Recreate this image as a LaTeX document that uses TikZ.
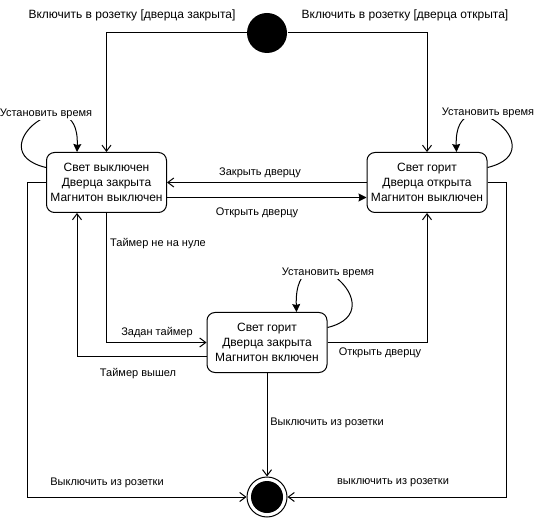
\documentclass[tikz,border=0pt]{standalone}
\usepackage{fontspec}
\setmainfont{Liberation Sans}
\usetikzlibrary{arrows.meta}

\begin{document}
\begin{tikzpicture}[x=1pt, y=-1pt, line width=1pt,
    state/.style={draw, rounded corners=8pt, minimum width=120pt, minimum height=60pt,
      align=center, inner sep=2pt, font=\fontsize{12}{15}\selectfont},
    startdot/.style={circle, fill=black, minimum size=40pt, inner sep=0pt},
    enddot/.style={circle, draw, minimum size=40pt, inner sep=0pt,
      path picture={\fill (path picture bounding box.center) circle (16pt);}},
    lbl/.style={font=\fontsize{11}{13}\selectfont, inner sep=1pt},
    toplbl/.style={font=\fontsize{12}{14}\selectfont, inner sep=1pt},
    loopl/.style={lbl, fill=white},
    trans/.style={-{Straight Barb[length=6pt,width=9pt]}},
    ftrans/.style={-{Stealth[length=8pt,width=8pt,inset=1pt]}}]
  \useasboundingbox (0,0) rectangle (535,518);

  % states
  \node[startdot] (start) at (267,33) {};
  \node[state] (off) at (106.5,182.5) {Свет выключен\\Дверца закрыта\\Магнитон выключен};
  \node[state] (open) at (427,182.5) {Свет горит\\Дверца открыта\\Магнитон выключен};
  \node[state] (run) at (267,342.5) {Свет горит\\Дверца закрыта\\Магнитон включен};
  \node[enddot] (fin) at (267,497) {};

  % plug in
  \draw[trans] (start.west) -| (off.north);
  \draw[trans] (start.east) -| (open.north);
  \node[toplbl] (plugclosed) at (132,15) {Включить в розетку [дверца закрыта]};
  \node[toplbl] (plugopen) at (405,15) {Включить в розетку [дверца открыта]};

  % set time loops
  \draw[ftrans] ([yshift=15pt]off.west) .. controls +(-71,-17) and +(3,-80) .. ([xshift=-29.5pt]off.north);
  \draw[ftrans] ([yshift=15pt]open.east) .. controls +(71,-17) and +(-3,-80) .. ([xshift=29.5pt]open.north);
  \draw[ftrans] ([yshift=15pt]run.east) .. controls +(71,-17) and +(-3,-90) .. ([xshift=29.5pt]run.north);
  \node[loopl] (setoff) at (46,114) {Установить время};
  \node[loopl] (setopen) at (488,113) {Установить время};
  \node[loopl] (setrun) at (328,273) {Установить время};

  % door
  \draw[trans] (open.west) -- (off.east);
  \draw[ftrans] ([yshift=-15pt]off.east) -- ([yshift=-15pt]open.west);
  \node[lbl] (closedoor) at (260,173) {Закрыть дверцу};
  \node[lbl] (opendoor) at (257,213) {Открыть дверцу};

  % timer
  \draw[trans] (off.south) |- (run.west);
  \draw[trans] ([yshift=-14pt]run.west) -| ([xshift=-29.5pt]off.south);
  \draw[trans] (run.east) -| (open.south);
  \node[lbl] (notzero) at (158,244) {Таймер не на нуле};
  \node[lbl] (timerset) at (157,333) {Задан таймер};
  \node[lbl] (timerout) at (138,374) {Таймер вышел};
  \node[lbl] (openrun) at (380,353) {Открыть дверцу};

  % unplug
  \draw[trans] (run.south) -- (fin.north);
  \draw[trans] (off.west) -- ++(-19,0) |- (fin.west);
  \draw[trans] (open.east) -- ++(19,0) |- (fin.east);
  \node[lbl] (unplugrun) at (327,423) {Выключить из розетки};
  \node[lbl] (unplugoff) at (107,483) {Выключить из розетки};
  \node[lbl] (unplugopen) at (393,483) {выключить из розетки};
\end{tikzpicture}
\end{document}
